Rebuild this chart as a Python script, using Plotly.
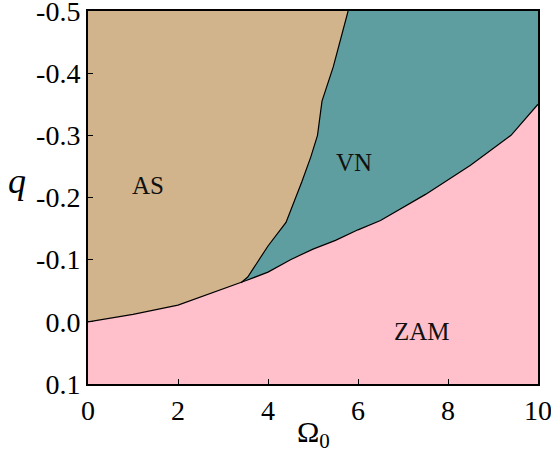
import plotly.graph_objects as go

# ZAM upper boundary (lower curve), Omega_0 vs q
lower_x = [0.0, 1.0, 2.0, 2.5, 3.0, 3.4, 3.5, 4.0, 4.5, 5.0, 5.5, 6.0, 6.5, 7.5, 8.5, 9.4, 10.0]
lower_q = [0.0, -0.012, -0.027, -0.040, -0.052, -0.063, -0.066, -0.080, -0.100, -0.117, -0.131, -0.148, -0.163, -0.205, -0.252, -0.300, -0.350]

# AS / VN boundary (upper curve)
upper_x = [3.4, 3.55, 4.0, 4.4, 4.75, 4.95, 5.1, 5.2, 5.45, 5.78]
upper_q = [-0.063, -0.072, -0.122, -0.160, -0.225, -0.265, -0.300, -0.355, -0.410, -0.500]

x_range = [0, 10]
q_range = [0.1, -0.5]
x_ticks = [0, 2, 4, 6, 8, 10]
q_ticks = [-0.5, -0.4, -0.3, -0.2, -0.1, 0.0, 0.1]
q_ticklabels = ["-0.5", "-0.4", "-0.3", "-0.2", "-0.1", "0.0", "0.1"]

regions = ["AS", "VN", "ZAM"]
region_x = [1.34, 5.9, 7.43]
region_q = [-0.219, -0.256, 0.015]

TAN = "#D2B48C"
CADET = "#5F9EA0"
PINK = "#FFC0CB"
FONT = "Liberation Serif"

fig = go.Figure()

# VN region polygon
vn_start = lower_x.index(upper_x[0])
vn_x = upper_x + [x_range[1]] + lower_x[::-1][: len(lower_x) - vn_start]
vn_q = upper_q + [q_range[1]] + lower_q[::-1][: len(lower_q) - vn_start]
fig.add_trace(go.Scatter(x=vn_x, y=vn_q, fill="toself", fillcolor=CADET,
                         mode="lines", line=dict(width=0), hoverinfo="skip"))

# ZAM region polygon
zam_x = lower_x + [x_range[1], x_range[0]]
zam_q = lower_q + [q_range[0], q_range[0]]
fig.add_trace(go.Scatter(x=zam_x, y=zam_q, fill="toself", fillcolor=PINK,
                         mode="lines", line=dict(width=0), hoverinfo="skip"))

# boundary lines
fig.add_trace(go.Scatter(x=lower_x, y=lower_q, mode="lines",
                         line=dict(color="black", width=1.2), hoverinfo="skip"))
fig.add_trace(go.Scatter(x=upper_x, y=upper_q, mode="lines",
                         line=dict(color="black", width=1.2), hoverinfo="skip"))

for name, rx, rq in zip(regions, region_x, region_q):
    fig.add_annotation(x=rx, y=rq, text=name, showarrow=False,
                       font=dict(family=FONT, size=25, color="#111111"))

fig.add_annotation(xref="paper", yref="paper", x=-0.158, y=0.545, text="<i>q</i>",
                   showarrow=False, xanchor="center",
                   font=dict(family=FONT, size=36, color="black"))
fig.add_annotation(xref="paper", yref="paper", x=0.5, y=-0.135, text="Ω<sub>0</sub>",
                   showarrow=False, yanchor="middle",
                   font=dict(family=FONT, size=30, color="black"))

fig.update_layout(
    width=551, height=456,
    margin=dict(l=88, r=13, t=11, b=72),
    plot_bgcolor=TAN, paper_bgcolor="white",
    showlegend=False, hovermode=False,
    font=dict(family=FONT, size=28, color="black"),
)
fig.update_xaxes(range=x_range, tickvals=x_ticks, ticks="inside", ticklen=5,
                 tickcolor="black", showgrid=False, zeroline=False, automargin=False,
                 ticklabeloverflow="allow",
                 showline=True, linecolor="black", linewidth=2, mirror=True,
                 tickfont=dict(family=FONT, size=28, color="black"))
fig.update_yaxes(range=q_range, tickvals=q_ticks,
                 ticktext=q_ticklabels, automargin=False, ticklabeloverflow="allow",
                 ticks="inside", ticklen=5, tickcolor="black", showgrid=False,
                 zeroline=False, showline=True, linecolor="black", linewidth=2,
                 mirror=True, tickfont=dict(family=FONT, size=28, color="black"))

fig.write_html("out.html", post_script="document.body.style.margin='0';",
               config={"displayModeBar": False})
